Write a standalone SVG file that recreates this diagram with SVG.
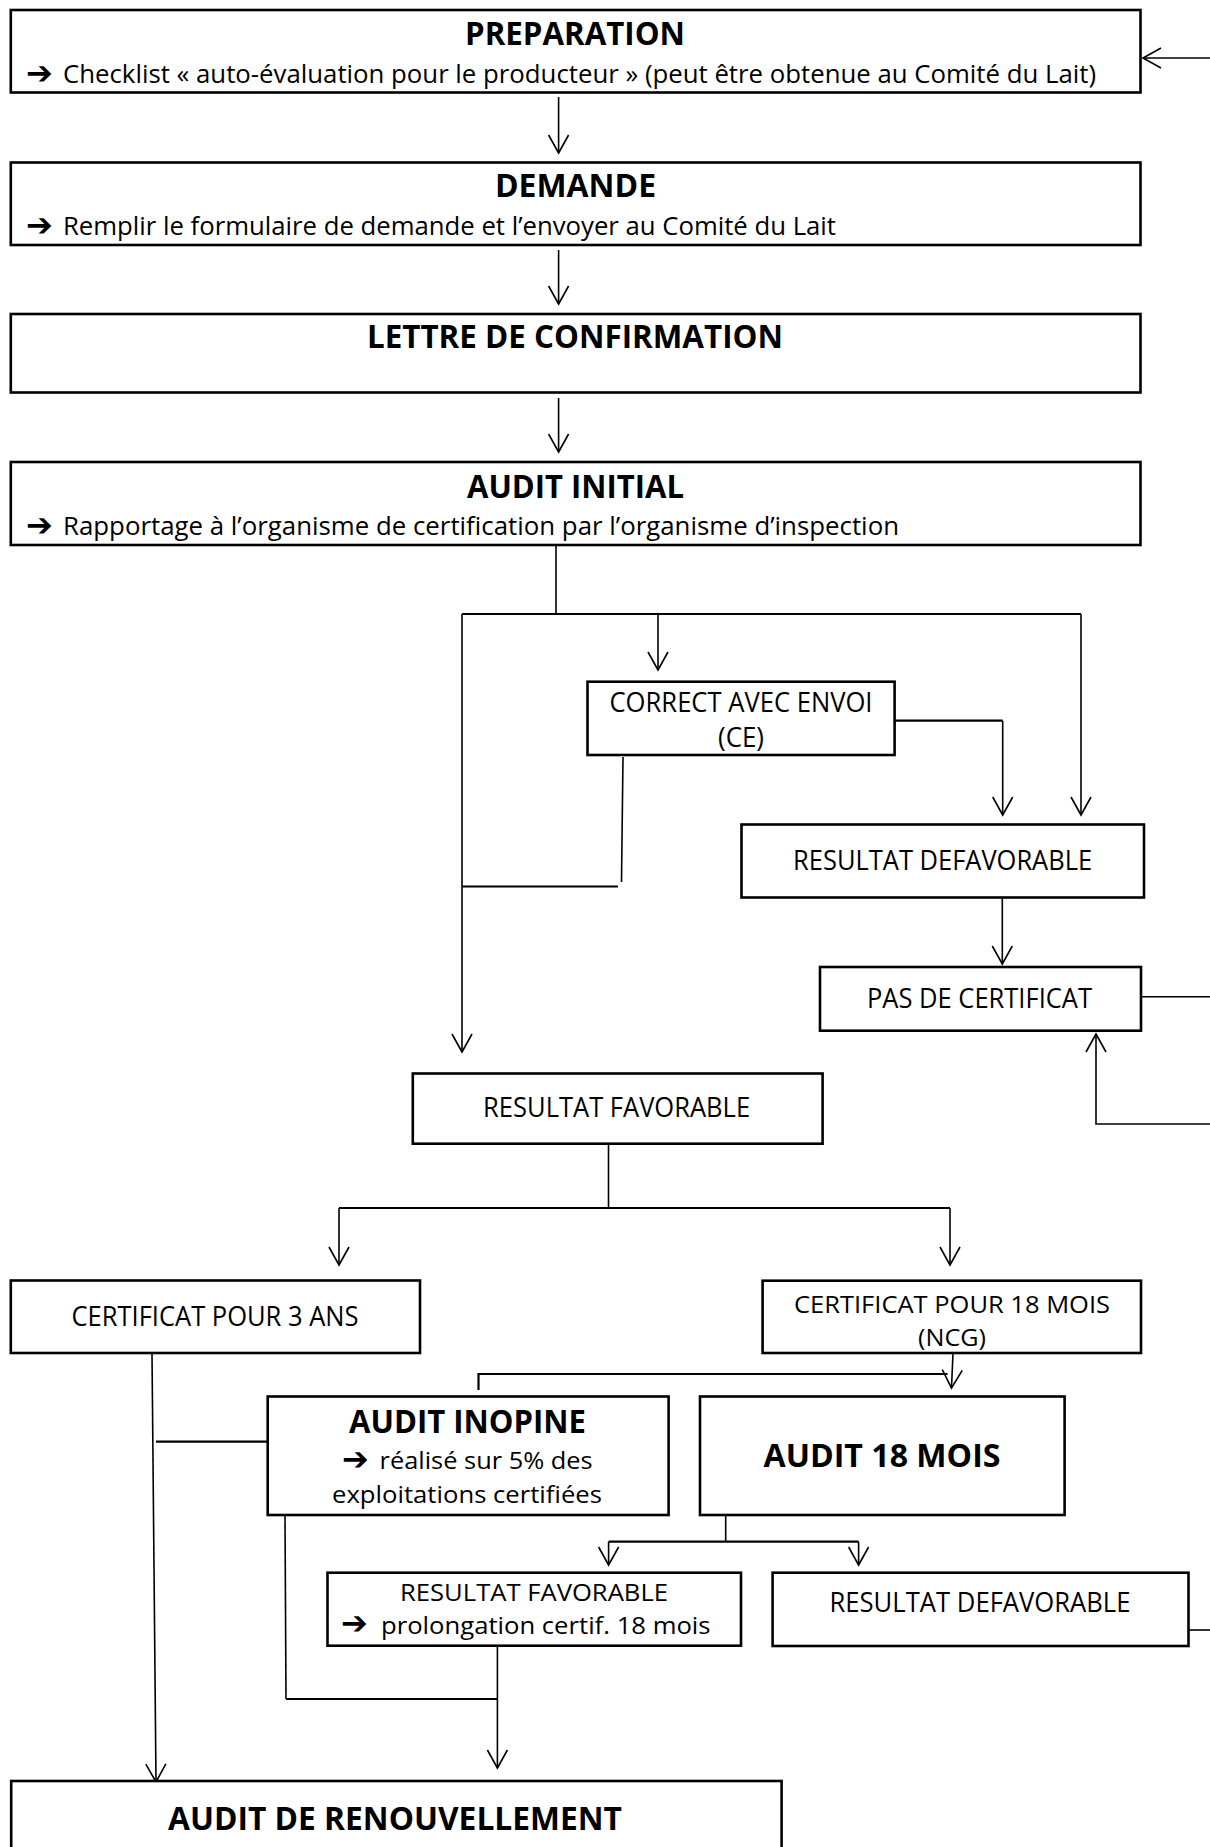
<svg xmlns="http://www.w3.org/2000/svg" width="1210" height="1847" viewBox="0 0 1210 1847">
<style>
.box{fill:#fff;stroke:#000;stroke-width:2.6}
.c{fill:none;stroke:#000;stroke-width:1.6}
.h{fill:none;stroke:#000;stroke-width:2.2}
.t{font-family:"Open Sans","Noto Sans",sans-serif;font-weight:700;font-size:33px;fill:#000}
.s{font-family:"Open Sans","Noto Sans",sans-serif;font-size:26px;fill:#000}
.n{font-family:"Open Sans","Noto Sans",sans-serif;font-size:26.5px;fill:#000}
.m{font-family:"Open Sans","Noto Sans",sans-serif;font-size:24.5px;fill:#000}
.ar{font-family:"DejaVu Sans",sans-serif;font-weight:700;font-size:32px;fill:#000}
</style>
<defs>
<marker id="a" markerUnits="userSpaceOnUse" markerWidth="24" markerHeight="24" viewBox="-20 -12 22 24" refX="0" refY="0" orient="auto">
<path d="M-18,-10 L0,0 L-18,10" fill="none" stroke="#000" stroke-width="1.6"/>
</marker>
</defs>
<rect width="1210" height="1847" fill="#fff"/>
<g id="connectors">
<path class="c" d="M1210,58 H1143" marker-end="url(#a)"/>
<path class="c" d="M558.6,97 V153" marker-end="url(#a)"/>
<path class="c" d="M558.6,250 V304" marker-end="url(#a)"/>
<path class="c" d="M558.6,398 V452" marker-end="url(#a)"/>
<path class="c" d="M556,545 V614"/>
<path class="h" d="M462,614 H1081"/>
<path class="c" d="M658,614 V670" marker-end="url(#a)"/>
<path class="c" d="M1081,614 V815" marker-end="url(#a)"/>
<path class="h" d="M894.6,720.7 H1002.7"/>
<path class="c" d="M1002.7,720.7 V815" marker-end="url(#a)"/>
<path class="c" d="M623,757 L621.5,882"/>
<path class="h" d="M462,886.5 H618"/>
<path class="c" d="M462,614 V1052" marker-end="url(#a)"/>
<path class="c" d="M1002.3,897.5 V964" marker-end="url(#a)"/>
<path class="c" d="M1141,996.7 H1210"/>
<path class="c" d="M1210,1124 H1096 V1034" marker-end="url(#a)"/>
<path class="c" d="M608.5,1143.7 V1208"/>
<path class="h" d="M339,1208 H950"/>
<path class="c" d="M339,1208 V1265" marker-end="url(#a)"/>
<path class="c" d="M950,1208 V1265" marker-end="url(#a)"/>
<path class="c" d="M152,1353 L156,1782" marker-end="url(#a)"/>
<path class="h" d="M156,1441.7 H267.7"/>
<path class="c" d="M953,1353 L951.5,1388" marker-end="url(#a)"/>
<path class="h" d="M478.5,1390 V1374 H947.5"/>
<path class="c" d="M285,1515 L286,1699"/>
<path class="h" d="M286,1699 H497.4"/>
<path class="c" d="M497.4,1645.7 V1768" marker-end="url(#a)"/>
<path class="c" d="M725.7,1515 V1541.7"/>
<path class="h" d="M608.6,1541.7 H858.6"/>
<path class="c" d="M608.6,1541.7 V1565" marker-end="url(#a)"/>
<path class="c" d="M858.6,1541.7 V1565" marker-end="url(#a)"/>
<path class="c" d="M1184,1630 H1210"/>
</g>
<g id="preparation">
<rect class="box" x="10.8" y="10" width="1129.7" height="82.5"/>
<text class="t" x="575" y="45" text-anchor="middle" textLength="220" lengthAdjust="spacingAndGlyphs">PREPARATION</text>
<text class="ar" x="26" y="84">➔</text>
<text class="s" x="63" y="83" textLength="1033" lengthAdjust="spacingAndGlyphs">Checklist « auto-évaluation pour le producteur » (peut être obtenue au Comité du Lait)</text>
</g>
<g id="demande">
<rect class="box" x="10.8" y="162.5" width="1129.7" height="82.5"/>
<text class="t" x="575.5" y="197" text-anchor="middle" textLength="161" lengthAdjust="spacingAndGlyphs">DEMANDE</text>
<text class="ar" x="26" y="236">➔</text>
<text class="s" x="63" y="235" textLength="773" lengthAdjust="spacingAndGlyphs">Remplir le formulaire de demande et l’envoyer au Comité du Lait</text>
</g>
<g id="lettre">
<rect class="box" x="10.8" y="314" width="1129.7" height="78.5"/>
<text class="t" x="575" y="348" text-anchor="middle" textLength="416" lengthAdjust="spacingAndGlyphs">LETTRE DE CONFIRMATION</text>
</g>
<g id="audit-initial">
<rect class="box" x="10.8" y="462" width="1129.7" height="83"/>
<text class="t" x="575.5" y="498" text-anchor="middle" textLength="217" lengthAdjust="spacingAndGlyphs">AUDIT INITIAL</text>
<text class="ar" x="26" y="536">➔</text>
<text class="s" x="63" y="535" textLength="836" lengthAdjust="spacingAndGlyphs">Rapportage à l’organisme de certification par l’organisme d’inspection</text>
</g>
<g id="correct-avec-envoi">
<rect class="box" x="587.5" y="681.7" width="307.1" height="73.3"/>
<text class="n" x="741" y="712" text-anchor="middle" textLength="263" lengthAdjust="spacingAndGlyphs">CORRECT AVEC ENVOI</text>
<text class="n" x="741" y="746.5" text-anchor="middle" textLength="46" lengthAdjust="spacingAndGlyphs">(CE)</text>
</g>
<g id="resultat-defavorable-1">
<rect class="box" x="741.5" y="824.5" width="402.5" height="73"/>
<text class="n" x="942.6" y="870" text-anchor="middle" textLength="299" lengthAdjust="spacingAndGlyphs">RESULTAT DEFAVORABLE</text>
</g>
<g id="pas-de-certificat">
<rect class="box" x="820" y="967" width="321" height="63.7"/>
<text class="n" x="979.5" y="1008" text-anchor="middle" textLength="225" lengthAdjust="spacingAndGlyphs">PAS DE CERTIFICAT</text>
</g>
<g id="resultat-favorable-1">
<rect class="box" x="412.8" y="1073.5" width="409.8" height="70.2"/>
<text class="n" x="616.6" y="1117" text-anchor="middle" textLength="267" lengthAdjust="spacingAndGlyphs">RESULTAT FAVORABLE</text>
</g>
<g id="certificat-3-ans">
<rect class="box" x="10.8" y="1280.5" width="409.2" height="72.5"/>
<text class="n" x="215" y="1326" text-anchor="middle" textLength="287" lengthAdjust="spacingAndGlyphs">CERTIFICAT POUR 3 ANS</text>
</g>
<g id="certificat-18-mois">
<rect class="box" x="762.6" y="1280.7" width="378.4" height="72.3"/>
<text class="m" x="952" y="1313" text-anchor="middle" textLength="316" lengthAdjust="spacingAndGlyphs">CERTIFICAT POUR 18 MOIS</text>
<text class="m" x="952" y="1345.5" text-anchor="middle" textLength="68" lengthAdjust="spacingAndGlyphs">(NCG)</text>
</g>
<g id="audit-inopine">
<rect class="box" x="267.7" y="1396.5" width="400.9" height="118.5"/>
<text class="t" x="467.5" y="1432.7" text-anchor="middle" textLength="237" lengthAdjust="spacingAndGlyphs">AUDIT INOPINE</text>
<text class="ar" x="342" y="1470">➔</text>
<text class="m" x="379.6" y="1469" textLength="213" lengthAdjust="spacingAndGlyphs">réalisé sur 5% des</text>
<text class="m" x="467" y="1503" text-anchor="middle" textLength="270" lengthAdjust="spacingAndGlyphs">exploitations certifiées</text>
</g>
<g id="audit-18-mois">
<rect class="box" x="700" y="1396.5" width="364.6" height="118.5"/>
<text class="t" x="882" y="1467" text-anchor="middle" textLength="237" lengthAdjust="spacingAndGlyphs">AUDIT 18 MOIS</text>
</g>
<g id="resultat-favorable-2">
<rect class="box" x="327.5" y="1572.7" width="413.5" height="73"/>
<text class="m" x="534" y="1600.5" text-anchor="middle" textLength="268" lengthAdjust="spacingAndGlyphs">RESULTAT FAVORABLE</text>
<text class="ar" x="341" y="1634">➔</text>
<text class="m" x="381" y="1633.5" textLength="329.5" lengthAdjust="spacingAndGlyphs">prolongation certif. 18 mois</text>
</g>
<g id="resultat-defavorable-2">
<rect class="box" x="772.6" y="1572.7" width="415.9" height="73.3"/>
<text class="n" x="980" y="1611.8" text-anchor="middle" textLength="301" lengthAdjust="spacingAndGlyphs">RESULTAT DEFAVORABLE</text>
</g>
<g id="audit-de-renouvellement">
<rect class="box" x="11.2" y="1781" width="770.4" height="120"/>
<text class="t" x="395" y="1829.6" text-anchor="middle" textLength="454" lengthAdjust="spacingAndGlyphs">AUDIT DE RENOUVELLEMENT</text>
</g>
</svg>
